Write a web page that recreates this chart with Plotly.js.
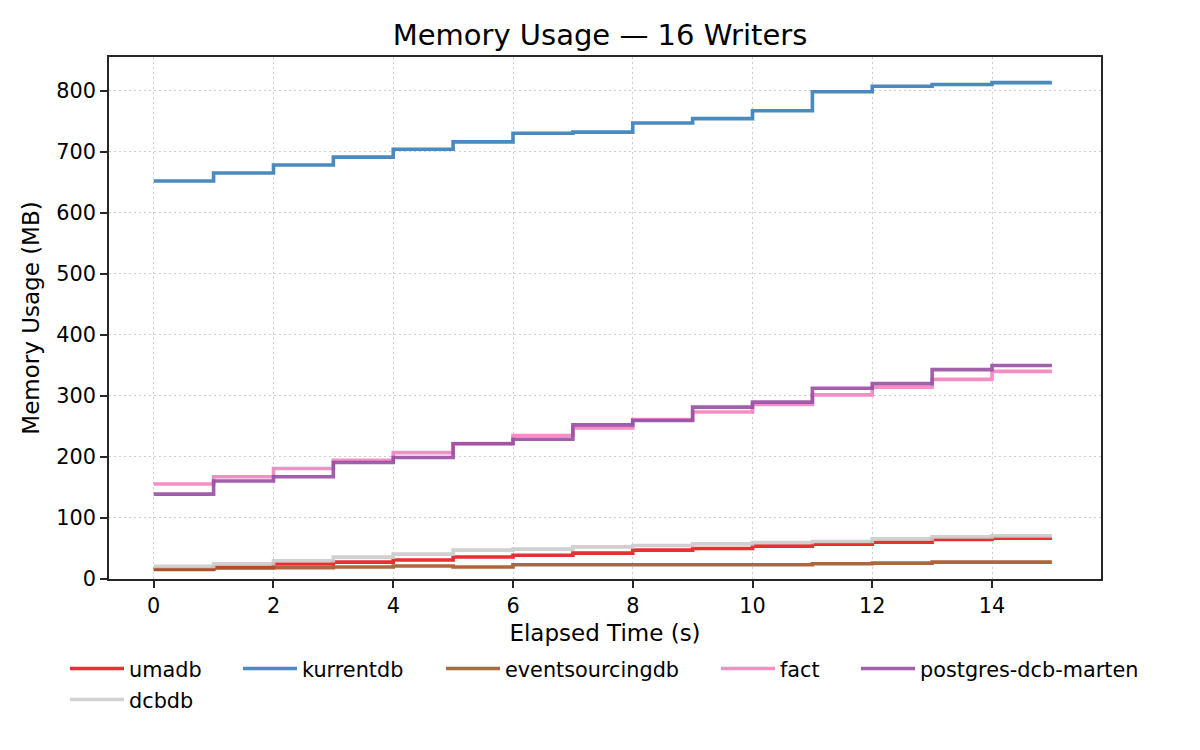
<!DOCTYPE html>
<html>
<head>
<meta charset="utf-8">
<script src="https://cdn.plot.ly/plotly-3.0.1.min.js"></script>
<style>
  body { margin: 0; background: white; }
  #chart { width: 1200px; height: 750px; }
</style>
</head>
<body>
<div id="chart"></div>
<script>
// elapsed seconds
const seconds = [0, 1, 2, 3, 4, 5, 6, 7, 8, 9, 10, 11, 12, 13, 14, 15];

// memory usage in MB
const umadb = [16, 19, 24.5, 27.7, 31, 36, 39, 42.4, 47.3, 50, 53.8, 57, 60.3, 64.7, 66.8, 66.8];
const kurrentdb = [652, 665, 678, 691, 704, 716, 730, 732, 747, 754, 767, 798, 807, 810, 813, 813];
const eventsourcingdb = [15.8, 18, 18.5, 19.6, 21.2, 19.6, 23.4, 23.4, 23.4, 23.4, 23.4, 25, 26, 27.7, 27.7, 27.7];
const fact = [155.5, 167.6, 181, 194.6, 207, 222, 235, 247.6, 261, 273.5, 286, 301.6, 314, 327, 340, 340];
const postgresMarten = [139, 160.5, 167.6, 190.8, 199, 221.6, 229, 252.4, 259.5, 281.6, 289.7, 312.4, 320, 343, 349.7, 349.7];
const dcbdb = [20.6, 25, 29.9, 35.9, 40.8, 47.3, 49, 52.7, 54.9, 57.6, 59.8, 61.4, 65.8, 69, 70.7, 70.7];

const seriesNames = ['umadb', 'kurrentdb', 'eventsourcingdb', 'fact', 'postgres-dcb-marten', 'dcbdb'];
const seriesValues = [umadb, kurrentdb, eventsourcingdb, fact, postgresMarten, dcbdb];
const seriesColors = ['#e41a1c', '#377eb8', '#a65628', '#f781bf', '#984ea3', '#cccccc'];
// legend column of each series (5 columns, dcbdb wraps under umadb)
const legendColumn = ['legend', 'legend2', 'legend3', 'legend4', 'legend5', 'legend'];

const traces = seriesNames.map(function(name, i) {
  return {
    type: 'scatter',
    mode: 'lines',
    name: name,
    x: seconds,
    y: seriesValues[i],
    line: { shape: 'hv', color: seriesColors[i], width: 3.6 },
    opacity: 0.9,
    legend: legendColumn[i],
    legendgroup: name
  };
});

const axisStyle = {
  showline: true,
  linecolor: '#262626',
  linewidth: 1.7,
  mirror: true,
  ticks: 'outside',
  ticklen: 7,
  tickwidth: 1.7,
  tickcolor: '#262626',
  showgrid: true,
  gridcolor: '#cfcfcf',
  griddash: '2px,3px',
  gridwidth: 1.3,
  zeroline: false,
  tickfont: { size: 20.8, color: '#000' }
};

// left edge of each legend column, in pixels of the page
const legendLeft = [65, 238, 441, 716, 856];
const plotLeft = 109, plotWidth = 992;

const legendBase = {
  orientation: 'v',
  xanchor: 'left',
  y: -0.133, yanchor: 'top',
  font: { size: 20.8, color: '#000' },
  itemwidth: 54,
  tracegroupgap: 1,
  bgcolor: 'rgba(0,0,0,0)'
};

const layout = {
  width: 1200,
  height: 750,
  font: { family: 'DejaVu Sans', color: '#000' },
  paper_bgcolor: 'white',
  plot_bgcolor: 'white',
  margin: { l: 109, r: 99, t: 57, b: 171 },
  title: {
    text: 'Memory Usage — 16 Writers',
    font: { size: 29 },
    x: 0.5, xanchor: 'center',
    y: 0.953, yanchor: 'middle'
  },
  xaxis: Object.assign({}, axisStyle, {
    range: [-0.747, 15.82],
    dtick: 2,
    title: { text: 'Elapsed Time (s)', font: { size: 23 }, standoff: 8 }
  }),
  yaxis: Object.assign({}, axisStyle, {
    range: [0, 855],
    dtick: 100,
    title: { text: 'Memory Usage (MB)', font: { size: 23 }, standoff: 10 }
  }),
  showlegend: true
};

legendLeft.forEach(function(px, i) {
  const key = i === 0 ? 'legend' : 'legend' + (i + 1);
  layout[key] = Object.assign({}, legendBase, { x: (px - plotLeft) / plotWidth });
});

Plotly.newPlot('chart', traces, layout, { displayModeBar: false });
</script>
</body>
</html>
